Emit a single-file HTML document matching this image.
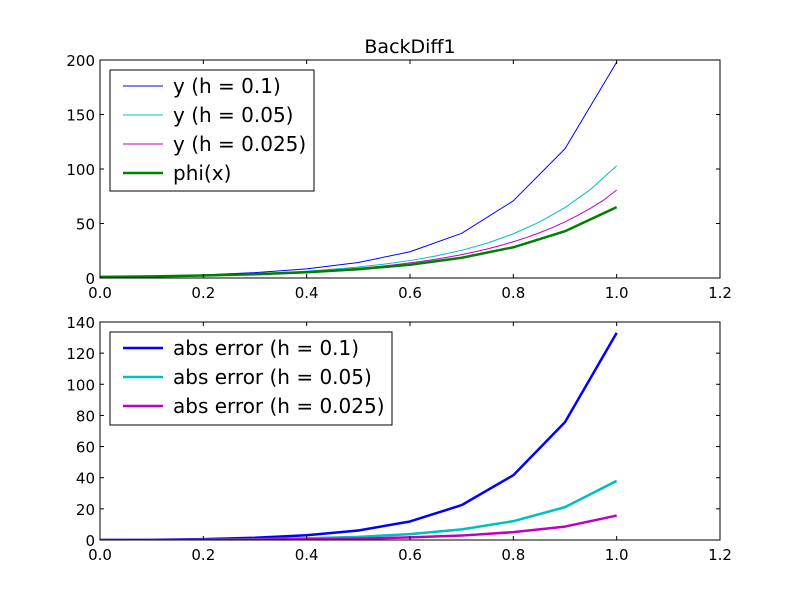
<!DOCTYPE html>
<html><head><meta charset="utf-8"><style>
html,body{margin:0;padding:0;background:#fff;}
svg{display:block;font-family:"DejaVu Sans","Liberation Sans",sans-serif;}
</style></head><body>
<svg id="fig" width="800" height="600" viewBox="0 0 800 600"></svg>
<script>
// ---- data ----
const x01 = [0,0.1,0.2,0.3,0.4,0.5,0.6,0.7,0.8,0.9,1.0];
const yH1 = [1,1.7,2.89,4.91,8.35,14.2,24.1,41.0,70.8,118.6,198];
const yH05 = [1,1.26,1.59,2.00,2.52,3.18,4.00,5.04,6.35,8.00,10.1,12.7,16.0,20.2,25.4,32.0,40.6,51.2,64.6,81.5,103];
const yH025 = [1,1.116,1.245,1.389,1.549,1.729,1.929,2.152,2.401,2.679,2.989,3.335,3.721,4.151,4.632,5.167,5.765,6.433,7.177,8.007,8.934,9.968,11.12,12.41,13.85,15.45,17.23,19.23,21.45,23.94,26.70,29.79,33.24,37.09,41.38,46.17,51.51,57.47,64.12,71.54,80.7];
const phiY = [1,1.52,2.30,3.49,5.30,8.06,12.2,18.6,28.2,42.9,65];
const errH1 = [0,0.18,0.59,1.42,3.05,6.1,11.9,22.4,41.6,75.7,133];
const errH05 = [0,0.07,0.22,0.51,1.05,2.04,3.8,6.8,12.1,21.1,38];
const errH025 = [0,0.03,0.10,0.23,0.47,0.87,1.65,2.85,5.04,8.61,15.7];
const xTicks = ["0.0","0.2","0.4","0.6","0.8","1.0","1.2"];
const yTicksTop = ["0","50","100","150","200"];
const yTicksBot = ["0","20","40","60","80","100","120","140"];

const NS="http://www.w3.org/2000/svg";
const svg=document.getElementById('fig');
function mk(tag,attrs,parent){const e=document.createElementNS(NS,tag);for(const k in attrs)e.setAttribute(k,attrs[k]);(parent||svg).appendChild(e);return e;}
function grid(h,n){const a=[];for(let i=0;i<n;i++)a.push(+(i*h).toFixed(4));return a;}

function axes(name,L,T,R,B,ymax,yTicks,series,legend,legBox){
  const g=mk('g',{});
  
  
  const sx=v=>L+(v/1.2)*(R-L);
  const sy=v=>B-(v/ymax)*(B-T);
  const clipId=name+'-clip';
  const cp=mk('clipPath',{id:clipId},g);mk('rect',{x:L,y:T,width:R-L,height:B-T},cp);
  series.forEach(s=>{
    const pts=s.y.map((v,i)=>sx(s.x[i]).toFixed(2)+','+sy(v).toFixed(2)).join(' ');
    const p=mk('polyline',{points:pts,fill:'none',stroke:s.c,'stroke-width':s.w,'stroke-linejoin':'round','clip-path':'url(#'+clipId+')'},g);
    
    
  });
  const fr=mk('rect',{x:L,y:T,width:R-L,height:B-T,fill:'none',stroke:'#000','stroke-width':1},g);
  
  
  xTicks.forEach(t=>{const X=sx(+t);
    mk('line',{x1:X,x2:X,y1:B,y2:B-4,stroke:'#000'},g);mk('line',{x1:X,x2:X,y1:T,y2:T+4,stroke:'#000'},g);
    const tx=mk('text',{x:X,y:B+20,'text-anchor':'middle','font-size':15},g);tx.textContent=t;
    
    });
  yTicks.forEach(t=>{const Y=sy(+t);
    mk('line',{x1:L,x2:L+4,y1:Y,y2:Y,stroke:'#000'},g);mk('line',{x1:R,x2:R-4,y1:Y,y2:Y,stroke:'#000'},g);
    const tx=mk('text',{x:L-5,y:Y+6,'text-anchor':'end','font-size':15},g);tx.textContent=t;
    
    });
  const lg=mk('g',{},g);
  
  
  mk('rect',{x:legBox[0],y:legBox[1],width:legBox[2],height:legBox[3],fill:'#fff',stroke:'#000'},lg);
  legend.forEach((e,i)=>{const Y=legBox[1]+16+i*29;
    mk('line',{x1:legBox[0]+13,x2:legBox[0]+53,y1:Y,y2:Y,stroke:e.c,'stroke-width':e.w},lg);
    const tx=mk('text',{x:legBox[0]+63,y:Y+7,'font-size':20},lg);tx.textContent=e.t;
    
    });
}

const t=mk('text',{x:410,y:53,'text-anchor':'middle','font-size':19});
t.textContent='BackDiff1';



const topSeries=[
 {n:'line-y-h01',x:x01,y:yH1,c:'#0000ff',w:1},
 {n:'line-y-h005',x:grid(0.05,21),y:yH05,c:'#00bfbf',w:1},
 {n:'line-y-h0025',x:grid(0.025,41),y:yH025,c:'#bf00bf',w:1},
 {n:'line-phi',x:x01,y:phiY,c:'#008000',w:2.5}];
axes('top-axes',100,60,720,278,200,yTicksTop,topSeries,[
 {t:'y (h = 0.1)',c:'#0000ff',w:1},{t:'y (h = 0.05)',c:'#00bfbf',w:1},
 {t:'y (h = 0.025)',c:'#bf00bf',w:1},{t:'phi(x)',c:'#008000',w:2.5}],[110,70,204,121]);

const botSeries=[
 {n:'line-err-h01',x:x01,y:errH1,c:'#0000ff',w:2.5},
 {n:'line-err-h005',x:x01,y:errH05,c:'#00bfbf',w:2.5},
 {n:'line-err-h0025',x:x01,y:errH025,c:'#bf00bf',w:2.5}];
axes('bottom-axes',100,322,720,540,140,yTicksBot,botSeries,[
 {t:'abs error (h = 0.1)',c:'#0000ff',w:2.5},{t:'abs error (h = 0.05)',c:'#00bfbf',w:2.5},
 {t:'abs error (h = 0.025)',c:'#bf00bf',w:2.5}],[110,332,282,93]);
</script>
</body></html>
